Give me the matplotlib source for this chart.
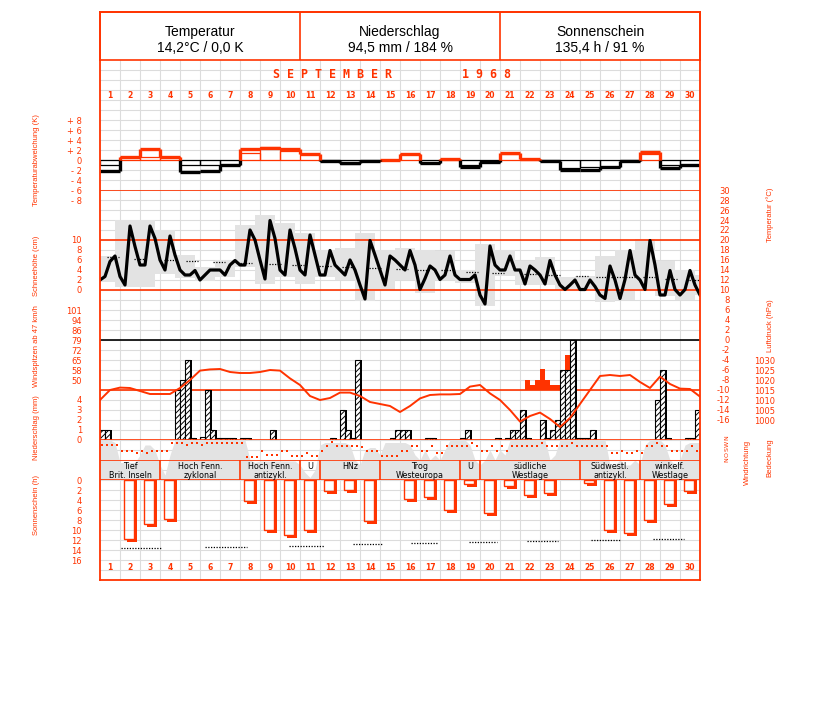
import numpy as np
import matplotlib
matplotlib.use("Agg")
import matplotlib.pyplot as plt

RED = "#ff3300"
GRID = "#dcdcdc"
SHADE = "#e3e3e3"
TITLE_FONT = "Liberation Sans"
W, H = 827, 702

# ---------------- data ----------------
days = np.arange(1, 31)

header_titles = ["Temperatur", "Niederschlag", "Sonnenschein"]
header_values = ["14,2°C / 0,0 K", "94,5 mm / 184 %", "135,4 h / 91 %"]
month_title = "S E P T E M B E R          1 9 6 8"

# daily temperature deviation (K): thick = daily mean, thin = outline box
dev_mean = [-2.1, 0.7, 2.2, 0.7, -2.3, -2.1, -1.0, 2.2, 2.4, 2.2,
            1.2, -0.1, -0.6, -0.2, 0.1, 1.2, -0.6, 0.2, -1.3, -0.4,
            1.5, 0.3, -0.1, -1.9, -1.9, -1.3, -0.1, 1.6, -1.6, -1.0]
dev_thin = [-1.0, 0.7, 0.7, 0.7, -1.0, -1.0, -1.0, 1.5, 2.6, 1.9,
            0.1, -0.1, -0.7, -0.2, 0.1, 1.2, -0.6, 0.2, -0.9, -0.4,
            1.2, 0.3, -0.1, -1.6, -1.3, -1.3, -0.1, 1.2, -1.0, -1.0]

# 6-hourly temperature (°C), one row per day, plus the closing value
temp_rows = [
    [12.0, 12.7, 15.7, 16.8], [12.7, 11.0, 22.8, 18.7], [15.0, 15.0, 22.8, 20.3],
    [16.0, 14.0, 20.8, 17.0], [14.0, 13.0, 13.0, 13.9], [12.0, 13.0, 14.0, 14.0],
    [14.0, 13.0, 15.0, 15.9], [15.0, 15.0, 22.0, 20.0], [16.0, 12.2, 23.9, 20.3],
    [14.0, 13.0, 22.0, 18.3], [14.0, 13.0, 21.0, 17.0], [13.0, 13.0, 17.9, 15.0],
    [14.0, 13.0, 16.0, 14.0], [11.0, 8.2, 19.9, 17.0], [14.0, 11.0, 16.8, 16.0],
    [15.0, 14.0, 17.9, 15.0], [10.1, 12.3, 14.8, 14.0], [12.1, 13.0, 16.8, 13.0],
    [12.1, 12.1, 12.1, 13.0], [9.0, 7.2, 18.8, 15.0], [14.0, 14.0, 16.8, 14.0],
    [14.0, 11.2, 14.8, 14.0], [13.0, 11.2, 15.9, 13.0], [11.0, 10.1, 11.0, 12.0],
    [10.1, 10.1, 12.0, 10.7], [9.0, 8.3, 14.8, 12.0], [8.3, 12.1, 17.9, 13.0],
    [12.0, 10.1, 19.9, 15.0], [9.0, 9.0, 13.9, 10.1], [9.0, 10.1, 13.9, 11.0],
]
temp_last = 9.0

# daily max / min boxes (observation day shifted by 18 h)
box_days = np.arange(1, 32)
box_tmax = [16.8, 24.0, 24.0, 22.0, 17.0, 14.6, 15.9, 23.0, 25.0, 23.4, 21.4,
            18.0, 18.4, 21.4, 18.0, 18.4, 18.0, 17.7, 14.0, 19.2, 18.0, 15.7,
            16.5, 12.5, 12.7, 16.8, 18.0, 20.1, 15.7, 14.0, 13.0]
box_tmin = [11.6, 10.5, 10.5, 13.2, 12.4, 11.8, 12.6, 14.6, 11.2, 12.6, 11.2,
            12.6, 12.0, 7.8, 10.0, 12.0, 9.4, 12.0, 11.4, 6.7, 12.7, 11.0,
            11.0, 9.7, 9.7, 7.5, 8.0, 9.7, 8.7, 7.9, 9.0]

# climatological mean (dotted marks)
clim_t = [1.15, 2.5, 4.0, 5.1, 6.45, 7.8, 9.25, 10.4, 11.75, 12.9, 14.25, 15.6,
          16.65, 17.85, 19.1, 20.4, 22.0, 23.2, 24.6, 25.6, 26.35, 26.95, 27.95,
          29.05, 30.25]
clim_v = [16.5, 16.2, 16.0, 15.8, 15.6, 15.3, 15.1, 14.9, 14.8, 14.5, 14.3, 14.1,
          14.0, 13.9, 13.6, 13.3, 13.1, 12.9, 12.7, 12.6, 12.6, 12.5, 12.5, 12.1, 12.0]

# 12-hourly pressure (hPa)
press_12h = [1010, 1015, 1016.2, 1016.0, 1014.5, 1013, 1013, 1013, 1016, 1020,
             1024.7, 1025.3, 1025.5, 1024, 1023.5, 1023.5, 1024, 1025, 1024.7, 1020.8,
             1017.5, 1012, 1010, 1011, 1013.7, 1013.7, 1012, 1009, 1008, 1007,
             1004, 1007, 1010.8, 1012.5, 1012.8, 1012.8, 1013, 1016.7, 1017.5, 1013.3,
             1010, 1005, 999.2, 1002, 1003.7, 1000.5, 996.5, 1001, 1008, 1015,
             1022, 1022.5, 1022, 1022.5, 1019, 1016, 1021.7, 1018, 1015.7, 1015.5,
             1011.7]

# 6-hourly precipitation (mm), one row per day
precip_rows = [
    [1.0, 1.0, 0, 0], [0, 0, 0, 0], [0, 0, 0, 0], [0, 0, 0, 5.0], [6.0, 8.0, 0.2, 0],
    [0.3, 5.0, 1.0, 0.2], [0.2, 0.2, 0.2, 0], [0.2, 0.2, 0, 0], [0, 0, 1.0, 0], [0, 0, 0, 0],
    [0, 0, 0, 0], [0, 0, 0.2, 0], [3.0, 1.0, 0.2, 8.0], [0, 0, 0, 0], [0, 0, 0.2, 1.0],
    [1.0, 1.0, 0, 0], [0, 0.2, 0.2, 0], [0, 0, 0, 0], [0.2, 1.0, 0, 0], [0, 0, 0, 0.2],
    [0, 0.2, 1.0, 1.0], [3.0, 0.2, 0, 0], [2.0, 0.2, 1.0, 2.0], [7.0, 7.0, 10.0, 0.2],
    [0.2, 0.2, 1.0, 0], [0, 0, 0, 0], [0, 0, 0, 0], [0, 0, 0, 4.0], [7.0, 0.2, 0, 0],
    [0, 0.2, 0.2, 3.0],
]

# wind gusts above 47 km/h
gust_day = [22, 22, 22, 23, 23, 23, 23, 24]
gust_q = [1, 2, 3, 0, 1, 2, 3, 1]
gust_kmh = [50, 46, 50, 58, 50, 46, 46, 68]
GUST_BASE = 42.7

# 6-hourly cloud cover (octas) and wind direction (degrees)
cloud_rows = [
    [8, 8, 8, 7.5], [3.5, 3.5, 3.5, 3.5], [5, 7, 7, 6], [3, 1, 5, 8], [8, 8, 8, 8],
    [8, 8, 8, 8], [8, 8, 8, 8], [8, 8, 4, 3.5], [3.8, 3.8, 3.8, 3.8], [3.8, 3.8, 3.8, 3.8],
    [3, 1.5, 0.5, 2], [7, 7.5, 7.5, 7.5], [7.5, 7.5, 7, 4], [3, 6, 6.5, 6.5], [5, 7.5, 7.5, 7.5],
    [7.5, 7.5, 7, 5], [4, 6, 4, 5], [4, 6, 8, 8], [8, 8, 7, 4], [3, 4, 6, 4],
    [6, 5, 8, 8], [8, 8, 8, 8], [8, 8, 4, 5], [8, 8, 8, 8], [8, 8, 8, 8],
    [8, 8, 3, 3], [4, 3, 3, 4], [3, 7, 8, 8], [8, 7, 4, 3], [4, 7, 7.5, 7.5],
]
cloud_last = 7.5
wind_rows = [
    [240, 240, 240, 240], [150, 150, 150, 120], [150, 120, 150, 150], [150, 150, 285, 285],
    [285, 240, 285, 285], [240, 285, 285, 285], [285, 285, 285, 285], [285, 45, 50, 50],
    [150, 80, 80, 80], [150, 150, 70, 70], [70, 120, 70, 70], [150, 235, 300, 235],
    [235, 235, 235, 235], [220, 150, 150, 150], [70, 70, 70, 70], [150, 150, 235, 235],
    [150, 150, 230, 120], [120, 230, 230, 230], [230, 230, 285, 230], [150, 150, 230, 150],
    [230, 150, 230, 230], [230, 230, 230, 230], [285, 230, 230, 230], [230, 230, 285, 230],
    [230, 230, 230, 230], [230, 230, 110, 110], [150, 110, 110, 150], [110, 230, 230, 285],
    [230, 230, 150, 150], [150, 150, 230, 150],
]

# Grosswetterlagen
gwl_first = [1, 4, 8, 11, 12, 15, 19, 20, 25, 28]
gwl_last = [3, 7, 10, 11, 14, 18, 19, 24, 27, 30]
gwl_names = ["Tief\nBrit. Inseln", "Hoch Fenn.\nzyklonal", "Hoch Fenn.\nantizykl.", "U",
             "HNz", "Trog\nWesteuropa", "U", "südliche\nWestlage",
             "Südwestl.\nantizykl.", "winkelf.\nWestlage"]

# sunshine (h)
sun_days = [2, 3, 4, 8, 9, 10, 11, 12, 13, 14, 16, 17, 18, 19, 20, 21, 22, 23,
            25, 26, 27, 28, 29, 30]
sun_hours = [11.7, 8.7, 7.7, 4.2, 10.0, 11.0, 10.0, 2.2, 1.9, 8.2, 3.8, 3.3, 5.9,
             0.8, 6.5, 1.2, 2.9, 2.5, 0.5, 9.9, 10.5, 7.9, 4.7, 2.1]
sun_ref_from = [1.55, 5.75, 9.95, 13.15, 16.05, 18.95, 21.85, 25.05, 28.15]
sun_ref_to = [3.6, 7.85, 11.7, 14.6, 17.4, 20.35, 23.4, 26.5, 29.7]
sun_ref_h = [13.5, 13.4, 13.1, 12.8, 12.5, 12.3, 12.1, 11.9, 11.7]

# ---------------- drawing ----------------
temp_6h = np.append(np.ravel(temp_rows), temp_last)
cloud_6h = np.append(np.ravel(cloud_rows), cloud_last)
wind_6h = np.ravel(wind_rows)
precip_6h = np.ravel(precip_rows)
t6 = 0.5 + np.arange(len(temp_6h)) / 4
t12 = 0.5 + np.arange(len(press_12h)) / 2

plt.rcParams["hatch.linewidth"] = 0.7
fig = plt.figure(figsize=(W / 100, H / 100), dpi=100)


def panel(top, bottom, ylim):
    ax = fig.add_axes([100 / W, 1 - bottom / H, 600 / W, (bottom - top) / H])
    ax.set_xlim(0.5, 30.5)
    ax.set_ylim(*ylim)
    ax.patch.set_visible(False)
    for s in ax.spines.values():
        s.set_visible(False)
    ax.set_xticks([])
    ax.set_yticks([])
    return ax


def ticks(ax, values, labels, side="left", pad=18, **kw):
    ax.set_yticks(values)
    if side == "right":
        ax.yaxis.tick_right()
    ax.set_yticklabels(labels, fontsize=6, color=RED, ha="right", **kw)
    ax.tick_params(axis="y", length=0, pad=pad * 0.72)


# background grid
bg = panel(60, 580, (52, 0))
bg.vlines(np.arange(1.5, 30.5), 0, 52, color=GRID, lw=0.8)
bg.hlines(np.arange(1, 52), 0.5, 30.5, color=GRID, lw=0.8)
bg.text(15.1, 1.4, month_title, ha="center", va="center", color=RED,
        fontsize=8.4, family="DejaVu Sans Mono", fontweight="bold")
for d in days:
    bg.text(d, 3.6, str(d), ha="center", va="center", color=RED, fontsize=5.5, fontweight="bold")
    bg.text(d, 50.7, str(d), ha="center", va="center", color=RED, fontsize=5.5, fontweight="bold")

# header
hd = panel(12, 60, (0, 1))
hd.vlines([10.5, 20.5], 0, 1, color=RED, lw=1.2)
for s in hd.spines.values():
    s.set_visible(True)
    s.set_color(RED)
    s.set_linewidth(1.2)
for i, (title, value) in enumerate(zip(header_titles, header_values)):
    hd.text(5.5 + 10 * i, 0.58, title, ha="center", va="center", fontsize=10, family="Liberation Sans")
    hd.text(5.5 + 10 * i, 0.24, value, ha="center", va="center", fontsize=10, family="Liberation Sans")

# temperature
tp = panel(190, 440, (-20, 30))
tmax = np.array(box_tmax)
tmin = np.array(box_tmin)
tp.bar(box_days - 0.75, tmax - tmin, width=1.0, bottom=tmin, align="edge", color=SHADE, lw=0, zorder=1)
ct = np.array(clim_t)
tp.hlines(clim_v, ct - 0.3, ct + 0.3, colors="k", linestyles=(0, (1, 1.2)), lw=0.9, zorder=2)
for level in [30, 20, 10, -10]:
    tp.axhline(level, color=RED, lw=1.2, zorder=3)
tp.axhline(0, color="k", lw=1.2, zorder=3)
tp.plot(t6, temp_6h, color="k", lw=2.3, zorder=4)
ticks(tp, np.arange(-16, 31, 2), [str(v) for v in range(-16, 31, 2)], side="right", pad=30)
snow = tp.secondary_yaxis("left", functions=(lambda T: T - 10, lambda s: s + 10))
snow.set_yticks([0, 2, 4, 6, 8, 10])
snow.set_yticklabels(["0", "2", "4", "6", "8", "10"], fontsize=6, color=RED)
snow.tick_params(axis="y", length=0, pad=18 * 0.72)
snow.spines["left"].set_visible(False)

# temperature deviation
dv = panel(110, 210, (-10, 10))
dm = np.array(dev_mean)
dt = np.array(dev_thin)
dv.bar(days, dt, width=1.0, fill=False, edgecolor=[RED if v > 0 else "k" for v in dt], lw=0.9)
dv.hlines(dm, days - 0.5, days + 0.5, colors=[RED if v > 0 else "k" for v in dm], lw=2.4)
for i in range(len(dm) - 1):
    a, b = dm[i], dm[i + 1]
    for lo, hi in [(min(a, b), min(max(a, b), 0)), (max(min(a, b), 0), max(a, b))]:
        if hi > lo:
            dv.vlines(days[i] + 0.5, lo, hi, color=RED if lo >= 0 else "k", lw=2.4)
ticks(dv, [8, 6, 4, 2, 0, -2, -4, -6, -8],
      ["+ 8", "+ 6", "+ 4", "+ 2", "0", "- 2", "- 4", "- 6", "- 8"], pad=18)

# cloud cover
cl = panel(440, 480, (0, 8))
cl.fill_between(t6, 0, cloud_6h, color=SHADE, lw=0)

# wind direction
wd = panel(438, 460, (0, 360))
wd.plot(t6[:len(wind_6h)] + 0.1, wind_6h, "s", color=RED, ms=1.9, mew=0)
wd.set_yticks([0, 90, 180, 270, 360])
wd.yaxis.tick_right()
wd.set_yticklabels(["N", "O", "S", "W", "N"], fontsize=4.5, color=RED, rotation=90,
                   ha="center", va="center")
wd.tick_params(axis="y", length=0, pad=27 * 0.72)

# Grosswetterlagen
gw = panel(460, 480, (0, 1))
gw.hlines([0, 1], 0.5, 30.5, color=RED, lw=1.2)
gw.vlines(np.array(gwl_first[1:]) - 0.5, 0, 1, color=RED, lw=1.2)
for a, b, name in zip(gwl_first, gwl_last, gwl_names):
    gw.text((a + b) / 2, 0.9, name, ha="center", va="top", fontsize=5.8, linespacing=0.95)

# wind gusts
gs = panel(300, 440, (6.29, 108.29))
gx = np.array(gust_day) - 0.5 + np.array(gust_q) * 0.25
gs.bar(gx, np.array(gust_kmh) - GUST_BASE, bottom=GUST_BASE, width=0.25, align="edge",
       color=RED, lw=0)
ticks(gs, [50 + i * 51 / 7 for i in range(8)],
      ["50", "58", "65", "72", "79", "86", "94", "101"], pad=18)

# precipitation
pr = panel(300, 440, (0, 14))
xq = 0.5 + np.arange(len(precip_6h)) / 4
wet = precip_6h > 0
pr.bar(xq[wet] + 0.1, precip_6h[wet], width=0.25, align="edge", color="k", lw=0)
pr.bar(xq[wet], precip_6h[wet], width=0.25, align="edge", facecolor="white",
       edgecolor="k", hatch="//////", lw=0.8)
pr.axhline(0, color=RED, lw=1.2)
ticks(pr, [0, 1, 2, 3, 4], ["0", "1", "2", "3", "4"], pad=18)

# pressure
ps = panel(300, 440, (990, 1060))
ps.plot(t12, press_12h, color=RED, lw=1.4)
ticks(ps, np.arange(1000, 1031, 5), [str(v) for v in range(1000, 1031, 5)], side="right", pad=75)

# sunshine
sn = panel(480, 580, (20, 0))
sd = np.array(sun_days)
sh = np.array(sun_hours)
sn.hlines(sun_ref_h, sun_ref_from, sun_ref_to, colors="k", linestyles=(0, (1, 1.2)), lw=0.9)
sn.bar(sd + 0.2, sh + 0.6, width=0.15, bottom=0, align="edge", color=RED, lw=0)
sn.bar(sd - 0.15, 0.6, width=0.5, bottom=sh, align="edge", color=RED, lw=0)
sn.bar(sd - 0.3, sh, width=0.5, align="edge", facecolor="none", edgecolor=RED, lw=1)
ticks(sn, np.arange(0, 17, 2), [str(v) for v in range(0, 17, 2)], pad=18)

# outer frame
fr = panel(12, 580, (0, 1))
for s in fr.spines.values():
    s.set_visible(True)
    s.set_color(RED)
    s.set_linewidth(1.3)

# axis titles
left_titles = [("Temperaturabweichung (K)", 160), ("Schneehöhe (cm)", 266),
               ("Windspitzen ab 47 km/h", 346), ("Niederschlag (mm)", 428),
               ("Sonnenschein (h)", 505)]
for text, y in left_titles:
    fig.text(37 / W, 1 - y / H, text, rotation=90, ha="center", va="center",
             color=RED, fontsize=5.5, family=TITLE_FONT)
right_titles = [("Temperatur (°C)", 770, 215), ("Luftdruck (hPa)", 771, 326),
                ("Windrichtung", 747, 462), ("Bedeckung", 770, 458)]
for text, x, y in right_titles:
    fig.text(x / W, 1 - y / H, text, rotation=90, ha="center", va="center",
             color=RED, fontsize=5.5, family=TITLE_FONT)

fig.savefig("out.png", dpi=100)
